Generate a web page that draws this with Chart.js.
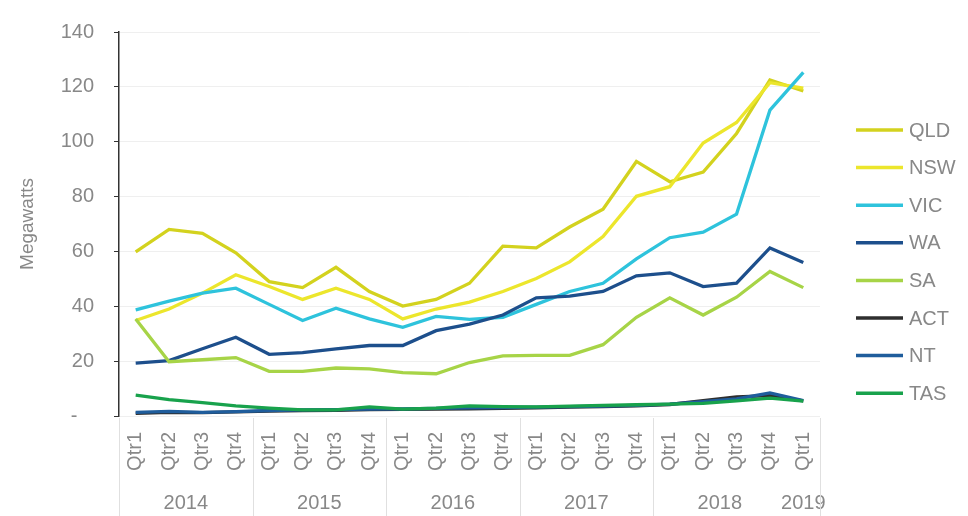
<!DOCTYPE html>
<html>
<head>
<meta charset="utf-8">
<script src="https://cdn.jsdelivr.net/npm/chart.js@4.4.1/dist/chart.umd.min.js"></script>
<style>
  html, body { margin: 0; padding: 0; background: #fff; }
  #wrap { width: 968px; height: 516px; }
</style>
</head>
<body>
<div id="wrap"><canvas id="c" width="968" height="516"></canvas></div>
<script>
const quarterLabels = ['Qtr1','Qtr2','Qtr3','Qtr4','Qtr1','Qtr2','Qtr3','Qtr4','Qtr1','Qtr2','Qtr3','Qtr4','Qtr1','Qtr2','Qtr3','Qtr4','Qtr1','Qtr2','Qtr3','Qtr4','Qtr1'];
const yearLabels = ['2014','2015','2016','2017','2018','2019'];
const yearSpans = [4, 4, 4, 4, 4, 1];
const seriesNames = ['QLD','NSW','VIC','WA','SA','ACT','NT','TAS'];

const QLD = [59.8, 68, 66.6, 59.5, 49, 46.8, 54.2, 45.4, 40.1, 42.5, 48.4, 61.9, 61.3, 68.9, 75.4, 92.8, 85.4, 88.9, 103, 122.5, 118.5];
const NSW = [34.8, 39, 44.8, 51.5, 47.2, 42.5, 46.6, 42.5, 35.4, 39, 41.5, 45.4, 50.1, 56.2, 65.4, 80.1, 83.6, 99.5, 107, 121.5, 119.5];
const VIC = [38.7, 41.9, 44.8, 46.6, 40.7, 34.8, 39.3, 35.4, 32.3, 36.3, 35.2, 36, 40.7, 45.4, 48.4, 57.3, 65, 67, 73.6, 111.5, 125.3];
const WA  = [19.3, 20.2, 24.5, 28.7, 22.5, 23.1, 24.5, 25.7, 25.7, 31.1, 33.5, 36.8, 43.1, 43.7, 45.4, 51.1, 52.2, 47.2, 48.4, 61.3, 56];
const SA  = [35.4, 19.8, 20.5, 21.3, 16.3, 16.3, 17.5, 17.2, 15.8, 15.4, 19.5, 21.9, 22.1, 22.1, 26, 36, 43.1, 36.8, 43.3, 52.7, 46.8];
const ACT = [1.0, 1.3, 1.2, 1.5, 1.8, 2.0, 2.1, 2.3, 2.4, 2.5, 2.6, 2.8, 3.0, 3.2, 3.4, 3.7, 4.2, 5.6, 7.0, 7.4, 5.5];
const NT  = [1.3, 1.7, 1.3, 1.6, 2.0, 2.2, 2.3, 2.5, 2.6, 2.8, 3.0, 3.1, 3.2, 3.4, 3.6, 3.9, 4.3, 5.2, 6.2, 8.4, 5.6];
const TAS = [7.6, 6.0, 4.9, 3.7, 2.9, 2.2, 2.2, 3.3, 2.5, 2.9, 3.7, 3.4, 3.3, 3.6, 3.9, 4.1, 4.3, 4.6, 5.5, 6.5, 5.4];

const seriesValues = [QLD, NSW, VIC, WA, SA, ACT, NT, TAS];
const seriesColors = ['#d3d21e', '#ece62c', '#2ec3dc', '#1d4f8c', '#a7d447', '#2e2e2e', '#1f5d9c', '#18a24c'];

const FONT = '"Liberation Sans", Arial, sans-serif';
const TEXT = '#888888';

const datasets = seriesNames.map((name, i) => ({
  label: name,
  data: seriesValues[i],
  borderColor: seriesColors[i],
  backgroundColor: seriesColors[i],
  borderWidth: 3.3,
  pointRadius: 0,
  tension: 0,
  fill: false,
  order: seriesNames.length - i
}));

const yearPlugin = {
  id: 'yearGroups',
  afterDraw(chart) {
    const { ctx, chartArea } = chart;
    const x = chart.scales.x;
    const half = (x.getPixelForValue(1) - x.getPixelForValue(0)) / 2;
    ctx.save();
    ctx.strokeStyle = '#e0e0e0';
    ctx.lineWidth = 1;
    ctx.fillStyle = TEXT;
    ctx.font = '20px ' + FONT;
    ctx.textAlign = 'center';
    ctx.textBaseline = 'middle';
    let start = 0;
    yearLabels.forEach((yr, g) => {
      const end = start + yearSpans[g] - 1;
      const left = x.getPixelForValue(start) - half;
      if (g < yearLabels.length - 1) {
        ctx.beginPath();
        ctx.moveTo(Math.round(left) + 0.5, chartArea.bottom + 2);
        ctx.lineTo(Math.round(left) + 0.5, 516);
        ctx.stroke();
      }
      const cx = (x.getPixelForValue(start) + x.getPixelForValue(end)) / 2;
      ctx.fillText(yr, cx, 503);
      start = end + 1;
    });
    const right = x.getPixelForValue(quarterLabels.length - 1) + half;
    ctx.beginPath();
    ctx.moveTo(Math.round(right) + 0.5, chartArea.bottom + 2);
    ctx.lineTo(Math.round(right) + 0.5, 516);
    ctx.stroke();

    // legend
    ctx.textAlign = 'left';
    const lx = chartArea.right + 36;
    chart.data.datasets.forEach((ds, i) => {
      const ly = 130 + i * 37.6;
      ctx.strokeStyle = ds.borderColor;
      ctx.lineWidth = 3.5;
      ctx.beginPath();
      ctx.moveTo(lx, ly);
      ctx.lineTo(lx + 47, ly);
      ctx.stroke();
      ctx.fillStyle = TEXT;
      ctx.fillText(ds.label, lx + 53, ly + 1);
    });
    ctx.restore();
  }
};

new Chart(document.getElementById('c'), {
  type: 'line',
  data: { labels: quarterLabels, datasets },
  options: {
    responsive: false,
    animation: false,
    devicePixelRatio: 1,
    layout: { padding: { top: 18, right: 148, bottom: 0, left: 0 } },
    plugins: {
      legend: { display: false },
      tooltip: { enabled: false }
    },
    scales: {
      x: {
        offset: true,
        grid: { display: false, drawTicks: false },
        border: { display: false },
        ticks: {
          color: TEXT,
          font: { family: FONT, size: 20 },
          minRotation: 90,
          maxRotation: 90,
          autoSkip: false,
          padding: 16
        },
        afterFit(s) { s.height = 100; }
      },
      y: {
        min: 0,
        max: 140,
        ticks: {
          stepSize: 20,
          color: TEXT,
          font: { family: FONT, size: 20 },
          padding: 20,
          callback: (v) => v === 0 ? '-   ' : String(v)
        },
        grid: { color: '#efefef', lineWidth: 1, tickColor: '#333', tickLength: 5 },
        border: { display: true, color: '#333', width: 1.5 },
        title: {
          display: true,
          text: 'Megawatts',
          color: TEXT,
          font: { family: FONT, size: 19 },
          padding: { top: 16, bottom: 0 }
        },
        afterFit(s) { s.width = 119; }
      }
    }
  },
  plugins: [yearPlugin]
});
</script>
</body>
</html>
